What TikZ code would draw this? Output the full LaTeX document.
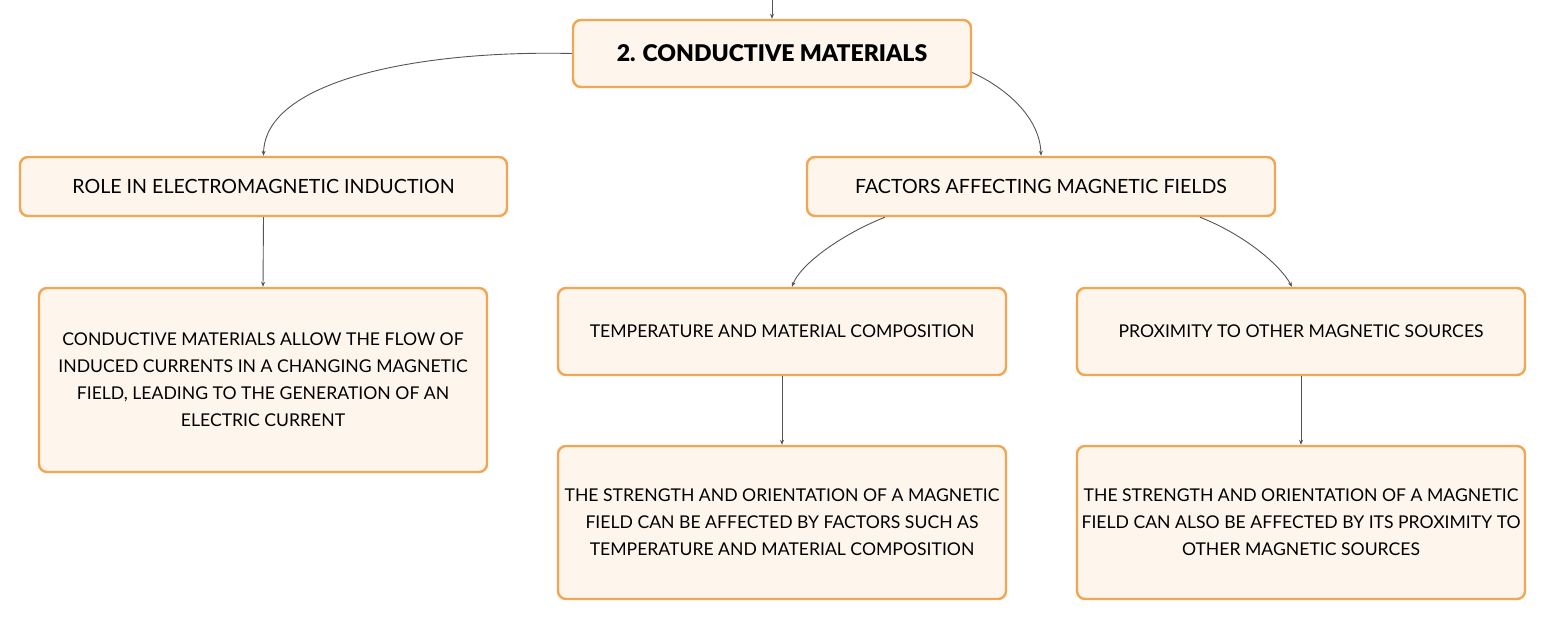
\documentclass[tikz,border=0pt]{standalone}
\usepackage{fontspec}
\setmainfont{Lato}
\newfontfamily\heavyfont{Lato Black}
\usetikzlibrary{arrows.meta}
\definecolor{boxfill}{HTML}{FEF5EC}
\definecolor{boxline}{HTML}{F2A552}
\definecolor{linkcol}{HTML}{555555}
\tikzset{
  box/.style={draw=boxline, fill=boxfill, line width=2.4pt, rounded corners=8pt,
    inner sep=0pt, align=center, font=\fontsize{17.6}{27}\selectfont},
  headbox/.style={box, font=\fontsize{19.6}{27}\selectfont},
  titlebox/.style={box, font=\fontsize{23}{28}\heavyfont},
  link/.style={draw=linkcol, line width=0.9pt, -{Stealth[length=5pt,width=4pt]}}
}
\begin{document}
\begin{tikzpicture}[x=1pt,y=-1pt]
\useasboundingbox (0,0) rectangle (1546,620);
\node[titlebox, minimum width=398pt, minimum height=67pt] (top) at (772,53.5) {2. CONDUCTIVE MATERIALS};
\node[headbox, minimum width=487pt, minimum height=59pt] (role) at (263.5,186.5) {ROLE IN ELECTROMAGNETIC INDUCTION};
\node[headbox, minimum width=468pt, minimum height=59pt] (fac) at (1041,186.5) {FACTORS AFFECTING MAGNETIC FIELDS};
\node[box, minimum width=448pt, minimum height=184pt] (cond) at (263,380) {CONDUCTIVE MATERIALS ALLOW THE FLOW OF\\INDUCED CURRENTS IN A CHANGING MAGNETIC\\FIELD, LEADING TO THE GENERATION OF AN\\ELECTRIC CURRENT};
\node[box, minimum width=448pt, minimum height=87pt] (temp) at (782,331.5) {TEMPERATURE AND MATERIAL COMPOSITION};
\node[box, minimum width=448pt, minimum height=87pt] (prox) at (1301,331.5) {PROXIMITY TO OTHER MAGNETIC SOURCES};
\node[box, minimum width=448pt, minimum height=153pt] (str1) at (782,522.5) {THE STRENGTH AND ORIENTATION OF A MAGNETIC\\FIELD CAN BE AFFECTED BY FACTORS SUCH AS\\TEMPERATURE AND MATERIAL COMPOSITION};
\node[box, minimum width=448pt, minimum height=153pt] (str2) at (1301,522.5) {THE STRENGTH AND ORIENTATION OF A MAGNETIC\\FIELD CAN ALSO BE AFFECTED BY ITS PROXIMITY TO\\OTHER MAGNETIC SOURCES};
\coordinate (entry) at (772,0);
\draw[link] (entry) -- (top.north);
\draw[link] (top.west) .. controls (420,50) and (265,80) .. (role.north);
\draw[link] ([yshift=-19pt]top.east) .. controls (1010,90) and (1040,120) .. (fac.north);
\draw[link] (role.south) -- (cond.north);
\draw[link] ([xshift=-156pt]fac.south) .. controls (840,235) and (800,265) .. ([xshift=10pt]temp.north);
\draw[link] ([xshift=159pt]fac.south) .. controls (1245,235) and (1280,265) .. ([xshift=-9pt]prox.north);
\draw[link] (temp.south) -- (str1.north);
\draw[link] (prox.south) -- (str2.north);
\end{tikzpicture}
\end{document}
